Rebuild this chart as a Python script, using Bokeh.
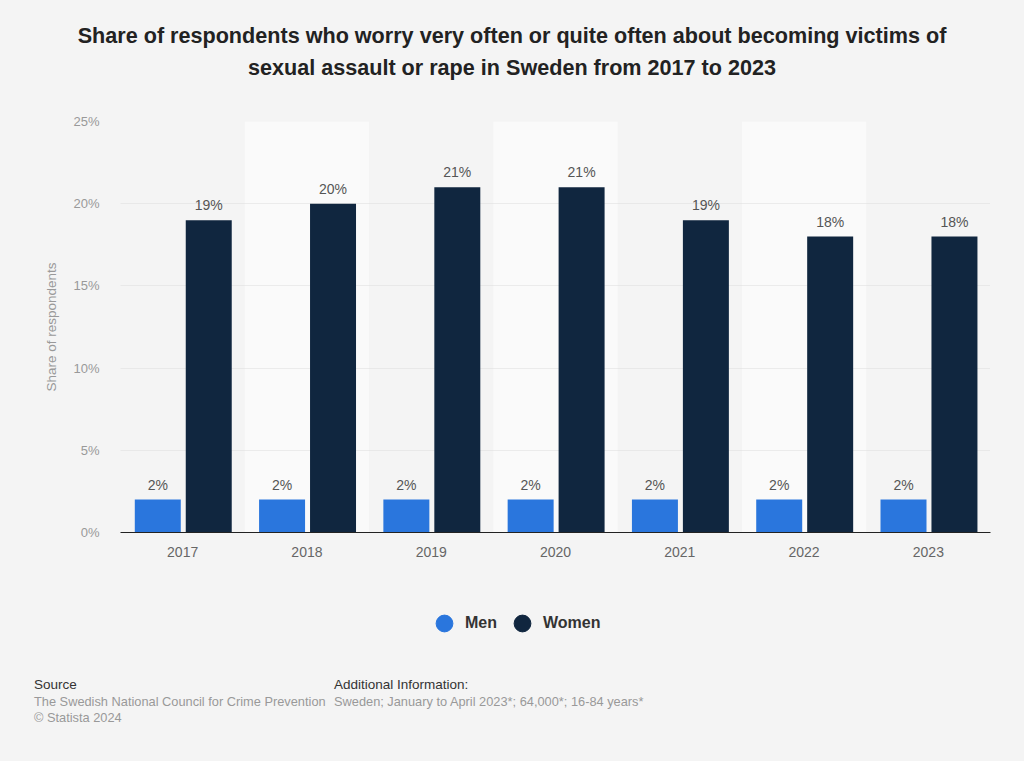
from bokeh.plotting import figure
from bokeh.models import (ColumnDataSource, FactorRange, Range1d, LabelSet, Legend, LegendItem,
                          PrintfTickFormatter, Div)
from bokeh.transform import dodge
from bokeh.layouts import column
from bokeh.embed import file_html
from bokeh.resources import INLINE
from bokeh.core.properties import value

years = ["2017", "2018", "2019", "2020", "2021", "2022", "2023"]
men = [2, 2, 2, 2, 2, 2, 2]
women = [19, 20, 21, 21, 19, 18, 18]
men_labels = [f"{v}%" for v in men]
women_labels = [f"{v}%" for v in women]
band_years = years[1::2]
series = ["Men", "Women"]
y_ticks = [0, 5, 10, 15, 20, 25]

FONT = "Liberation Sans"
BG = "#f4f4f4"
MEN_C = "#2a76dd"
WOMEN_C = "#10263f"
W = 1024

src = ColumnDataSource(dict(year=years, men=men, women=women, ml=men_labels, wl=women_labels))

p = figure(x_range=FactorRange(*years, range_padding=0), y_range=Range1d(0, 25),
           width=W, height=487, output_backend="svg", toolbar_location=None,
           min_border_left=120, min_border_right=34, min_border_top=18, min_border_bottom=58)
p.background_fill_color = BG
p.border_fill_color = BG
p.outline_line_color = None

bands = p.vbar(x=band_years, top=[25] * len(band_years), width=1.0, color="#fafafa", line_color=None)
bands.level = "image"

p.vbar(x=dodge("year", -0.2, range=p.x_range), top="men", width=0.37, source=src,
       color=MEN_C, line_color=None)
p.vbar(x=dodge("year", 0.21, range=p.x_range), top="women", width=0.37, source=src,
       color=WOMEN_C, line_color=None)

for off, col, lab in [(-0.2, "men", "ml"), (0.21, "women", "wl")]:
    ls = LabelSet(x=dodge("year", off, range=p.x_range), y=col, text=lab, source=src,
                  text_align="center", text_baseline="bottom", y_offset=7,
                  text_font=value(FONT), text_font_size="14px", text_color="#555555")
    p.add_layout(ls)

p.ygrid.grid_line_color = "#dcdcdc"
p.ygrid.grid_line_dash = "1 1"
p.xgrid.grid_line_color = None

p.yaxis.formatter = PrintfTickFormatter(format="%d%%")
p.yaxis.ticker = y_ticks
p.yaxis.axis_line_color = None
p.yaxis.major_tick_line_color = None
p.yaxis.minor_tick_line_color = None
p.yaxis.major_tick_out = 0
p.yaxis.minor_tick_out = 0
p.yaxis.major_label_text_color = "#999999"
p.yaxis.major_label_text_font = FONT
p.yaxis.major_label_text_font_size = "13px"
p.yaxis.major_label_standoff = 21
p.yaxis.axis_label = "Share of respondents"
p.yaxis.axis_label_text_font = FONT
p.yaxis.axis_label_text_font_size = "13.5px"
p.yaxis.axis_label_text_font_style = "normal"
p.yaxis.axis_label_text_color = "#999999"
p.yaxis.axis_label_standoff = 11

p.xaxis.axis_line_color = "#222222"
p.xaxis.major_tick_line_color = None
p.xaxis.minor_tick_line_color = None
p.xaxis.major_tick_out = 0
p.xaxis.minor_tick_out = 0
p.xaxis.major_label_text_color = "#666666"
p.xaxis.major_label_text_font = FONT
p.xaxis.major_label_text_font_size = "14px"
p.xaxis.major_label_standoff = 14

# legend in its own strip (swatch points sit outside the visible range)
lp = figure(width=W, height=65, x_range=Range1d(0, 1), y_range=Range1d(0, 1),
            output_backend="svg", toolbar_location=None, min_border=0)
lp.axis.visible = False
lp.grid.visible = False
lp.outline_line_color = None
lp.background_fill_color = BG
lp.border_fill_color = BG
r_m = lp.scatter(x=[-5], y=[-5], marker="circle", size=17, color=MEN_C)
r_w = lp.scatter(x=[-5], y=[-5], marker="circle", size=17, color=WOMEN_C)
legend = Legend(items=[LegendItem(label=series[0], renderers=[r_m]),
                       LegendItem(label=series[1], renderers=[r_w])],
                orientation="horizontal", location=(303, 11))
legend.background_fill_alpha = 0
legend.border_line_color = None
legend.label_text_font = FONT
legend.label_text_font_size = "16px"
legend.label_text_font_style = "bold"
legend.label_text_color = "#333333"
legend.glyph_width = 42
legend.glyph_height = 42
legend.label_standoff = -3
legend.spacing = 4
legend.padding = 0
legend.margin = 0
lp.add_layout(legend, "center")

title = Div(text=("<div style=\"width:1024px;text-align:center;font-family:'Liberation Sans',Arial,sans-serif;"
                  "font-weight:bold;font-size:21.6px;line-height:32px;color:#222;padding-top:20px;\">"
                  "Share of respondents who worry very often or quite often about becoming victims of<br>"
                  "sexual assault or rape in Sweden from 2017 to 2023</div>"),
            width=W, height=103, styles={"background-color": BG, "margin": "0"})

footer = Div(text=("<div style=\"position:relative;width:1024px;height:106px;font-family:'Liberation Sans',Arial,sans-serif;"
                   "font-size:12.8px;line-height:16.5px;\">"
                   "<div style=\"position:absolute;left:34px;top:22px;\"><span style=\"color:#333;font-size:13.5px\">Source</span><br>"
                   "<span style=\"color:#999\">The Swedish National Council for Crime Prevention</span><br>"
                   "<span style=\"color:#999\">© Statista 2024</span></div>"
                   "<div style=\"position:absolute;left:334px;top:22px;\"><span style=\"color:#333;font-size:13.5px\">Additional Information:</span><br>"
                   "<span style=\"color:#999\">Sweden; January to April 2023*; 64,000*; 16-84 years*</span></div>"
                   "</div>"),
             width=W, height=106, styles={"background-color": BG, "margin": "0"})

layout = column(title, p, lp, footer, spacing=0, styles={"background-color": BG})

open("out.html", "w").write(file_html(layout, INLINE))
